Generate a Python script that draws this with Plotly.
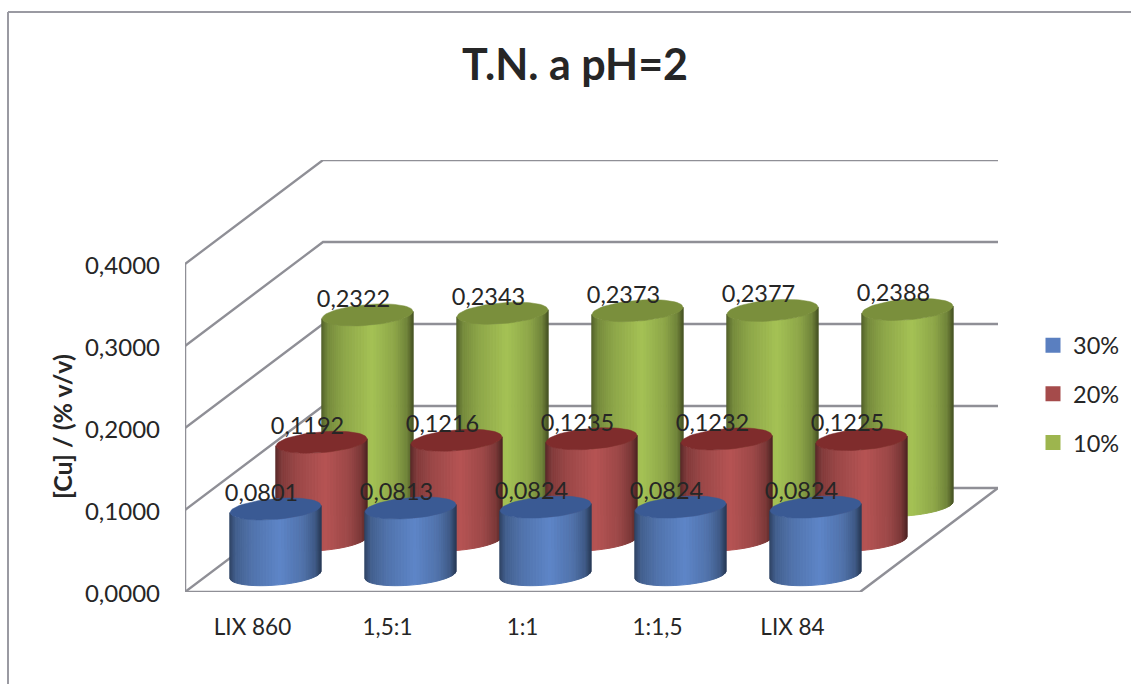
import numpy as np
import plotly.graph_objects as go

categories = ["LIX 860", "1,5:1", "1:1", "1:1,5", "LIX 84"]
series_30 = [0.0801, 0.0813, 0.0824, 0.0824, 0.0824]
series_20 = [0.1192, 0.1216, 0.1235, 0.1232, 0.1225]
series_10 = [0.2322, 0.2343, 0.2373, 0.2377, 0.2388]
y_ticks = [0.0, 0.1, 0.2, 0.3, 0.4]

FONT = "Lato"
TEXT = "#262626"
GRID = "#8f8f96"
W, H = 1131, 684
L, R, T, B = 185, 998, 160, 592       # plot-area pixels
CAT_PX = 135.0
VAL_PX = 820.0
DEPTH_PX = (138.0, 104.0)
N_STRIPS = 46

series = [  # back to front
    dict(name="10%", vals=series_10, depth=5 / 6, base=(165, 194, 85), top="#7a8f3c", key="#9db54e"),
    dict(name="20%", vals=series_20, depth=3 / 6, base=(182, 84, 84), top="#7f2c2c", key="#a54b4b"),
    dict(name="30%", vals=series_30, depth=1 / 6, base=(94, 134, 200), top="#3a5a94", key="#5a7fc0"),
]

def project(cat, depth, val):
    return (np.asarray(cat) + np.asarray(depth) * DEPTH_PX[0] / CAT_PX,
            np.asarray(val) + np.asarray(depth) * DEPTH_PX[1] / VAL_PX)

fig = go.Figure()

def line(xs, ys, width=2.3):
    fig.add_trace(go.Scatter(x=xs, y=ys, mode="lines", line=dict(color=GRID, width=width),
                             showlegend=False, hoverinfo="skip", cliponaxis=False))

n = len(categories)
cat_lo, cat_hi = -0.5, n - 0.5
# wall grid lines
for v in y_ticks:
    x0, y0 = project(cat_lo, 0, v)
    x1, y1 = project(cat_lo, 1, v)
    x2, y2 = project(cat_hi, 1, v)
    line([x0, x1, x2], [y0, y1, y2])
# left edge, floor edges
x0, y0 = project(cat_lo, 0, y_ticks[0])
x1, y1 = project(cat_lo, 0, y_ticks[-1])
line([x0, x1], [y0, y1], 2.5)
fx, fy = project([cat_lo, cat_hi, cat_hi], [0, 0, 1], [0, 0, 0])
line(list(fx), list(fy), 2.5)

# cylinders, in oblique projection
RAD_X = 43.0 / CAT_PX
RAD_D = 0.106
theta0 = np.arctan2(RAD_D * DEPTH_PX[0] / CAT_PX, RAD_X)
thetas = np.linspace(theta0 + np.pi, theta0 + 2 * np.pi, N_STRIPS + 1)
span = np.hypot(RAD_X, RAD_D * DEPTH_PX[0] / CAT_PX)
shade_t = [-1, -0.86, -0.5, 0.1, 0.6, 0.88, 1]
shade_m = [0.50, 0.72, 0.86, 1.0, 0.86, 0.68, 0.45]

def rim(c, d, v, th):
    return project(c + RAD_X * np.cos(th), d + RAD_D * np.sin(th), v)

for s in series:
    for i in range(N_STRIPS):
        th = thetas[i:i + 2]
        t = np.mean(RAD_X * np.cos(th) + RAD_D * DEPTH_PX[0] / CAT_PX * np.sin(th)) / span
        m = np.interp(t, shade_t, shade_m)
        col = "rgb(%d,%d,%d)" % tuple(int(c * m) for c in s["base"])
        xs, ys = [], []
        for c, v in enumerate(s["vals"]):
            xb, yb = rim(c, s["depth"], 0, th)
            xt, yt = rim(c, s["depth"], v, th)
            xs += [xb[0], xb[1], xt[1], xt[0], xb[0], None]
            ys += [yb[0], yb[1], yt[1], yt[0], yb[0], None]
        fig.add_trace(go.Scatter(x=xs, y=ys, mode="lines", fill="toself", fillcolor=col,
                                 line=dict(color=col, width=1), showlegend=False, hoverinfo="skip"))
    xs, ys = [], []
    ring = np.linspace(0, 2 * np.pi, 61)
    for c, v in enumerate(s["vals"]):
        xe, ye = rim(c, s["depth"], v, ring)
        xs += list(xe) + [None]
        ys += list(ye) + [None]
    fig.add_trace(go.Scatter(x=xs, y=ys, mode="lines", fill="toself", fillcolor=s["top"],
                             line=dict(color=s["top"], width=0.5), showlegend=False, hoverinfo="skip"))

# data labels
LABEL_DX, LABEL_DY = -14.0 / CAT_PX, 14.0 / VAL_PX
for s in series:
    lx, ly = project(np.arange(n), s["depth"], np.array(s["vals"]))
    fig.add_trace(go.Scatter(x=lx + LABEL_DX, y=ly + LABEL_DY, mode="text",
                             text=[("%.4f" % v).replace(".", ",") for v in s["vals"]],
                             textposition="middle center", textfont=dict(family=FONT, size=23.5, color=TEXT),
                             showlegend=False, hoverinfo="skip", cliponaxis=False))

# legend keys
for i, s in enumerate(reversed(series)):
    fig.add_trace(go.Scatter(x=[None], y=[None], mode="markers", name=s["name"], legendgroup=s["name"],
                             marker=dict(symbol="square", size=15, color=s["key"])))

px = lambda x: (x - L) / (R - L)
py = lambda y: (B - y) / (B - T)
frame = dict(type="line", xref="paper", yref="paper", line=dict(color="#9a9aa2", width=2), layer="below")

fig.update_layout(
    width=W, height=H, autosize=False,
    margin=dict(l=L, r=W - R, t=T, b=H - B, autoexpand=False),
    paper_bgcolor="white", plot_bgcolor="white",
    showlegend=True,
    title=dict(text="<b>T.N. a pH=2</b>", x=575 / W, xanchor="center", y=1 - 65 / H, yanchor="middle",
               font=dict(family=FONT, size=43, color=TEXT)),
    xaxis=dict(range=[cat_lo, cat_lo + (R - L) / CAT_PX], tickmode="array", tickvals=list(range(n)), ticktext=categories,
               showgrid=False, zeroline=False, showline=False, ticks="", ticklabelstandoff=19,
               tickfont=dict(family=FONT, size=22.5, color=TEXT), fixedrange=True),
    yaxis=dict(range=[0, (B - T) / VAL_PX], tickmode="array", tickvals=y_ticks,
               ticktext=[("%.4f" % v).replace(".", ",") for v in y_ticks],
               showgrid=False, zeroline=False, showline=False, ticks="", ticklabelstandoff=24, ticklabelshift=2,
               tickfont=dict(family=FONT, size=24, color=TEXT), fixedrange=True),
    legend=dict(x=px(1033), y=py(323.5), xanchor="left", yanchor="top", bgcolor="rgba(0,0,0,0)",
                font=dict(family=FONT, size=23.5, color=TEXT), tracegroupgap=15, itemclick=False, itemdoubleclick=False),
    annotations=[dict(text="<b>[Cu] / (% v/v)</b>", xref="paper", yref="paper", x=px(62), y=py(427),
                      textangle=-90, showarrow=False, xanchor="center", yanchor="middle",
                      font=dict(family=FONT, size=25, color=TEXT))],
    shapes=[dict(frame, x0=px(8), y0=py(12), x1=px(W), y1=py(12)),
            dict(frame, x0=px(8), y0=py(12), x1=px(8), y1=py(H))],
)
fig.write_html("out.html", config=dict(displayModeBar=False),
               post_script="document.body.style.margin='0';document.body.style.overflow='hidden';")
